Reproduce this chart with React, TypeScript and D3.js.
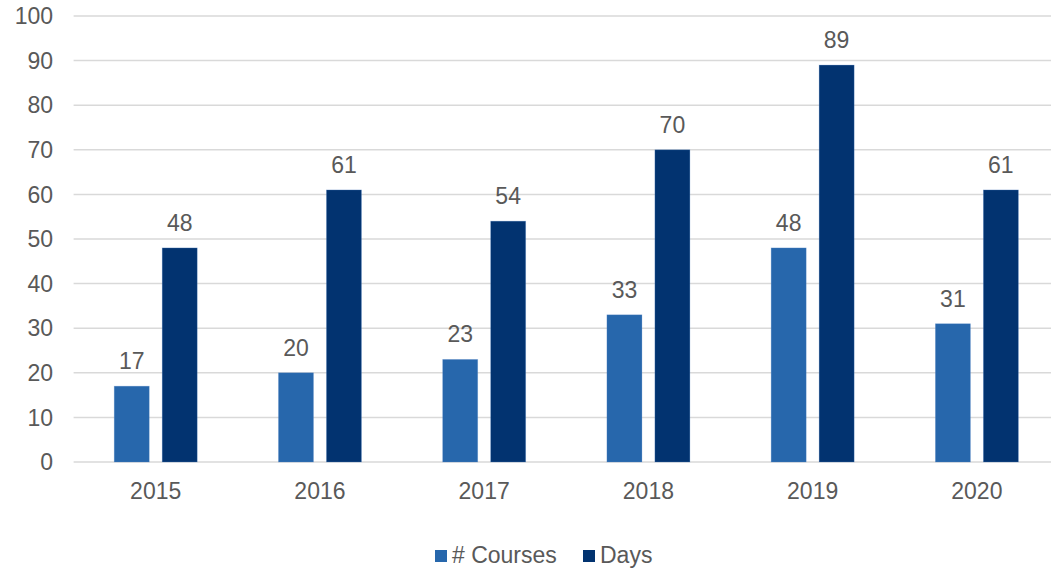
import React from "react";
import * as d3 from "d3";

const years = ["2015", "2016", "2017", "2018", "2019", "2020"];
const courses = [17, 20, 23, 33, 48, 31];
const days = [48, 61, 54, 70, 89, 61];
const seriesNames = ["# Courses", "Days"];
const colors = ["#2767AC", "#023370"];
const yTicks = [0, 10, 20, 30, 40, 50, 60, 70, 80, 90, 100];

const width = 1051,
  height = 570;
const margin = { top: 16, right: -8, bottom: 108, left: 73.6 };
const font = "'Liberation Sans', Arial, sans-serif";
const textColor = "#595959";

const App = () => {
  const x = d3
    .scaleBand()
    .domain(years)
    .range([margin.left, width - margin.right]);
  const inner = d3
    .scaleBand()
    .domain(seriesNames)
    .range([x.bandwidth() / 2 - 41.5, x.bandwidth() / 2 + 41.5])
    .paddingInner(0.27);
  const y = d3
    .scaleLinear()
    .domain([0, 100])
    .range([height - margin.bottom, margin.top]);

  const series = [courses, days];

  return (
    <svg
      width={width}
      height={height}
      style={{ position: "absolute", left: 0, top: 0, background: "#fff" }}
      fontFamily={font}
    >
      {yTicks.map(t => (
        <g key={t}>
          <line
            x1={margin.left}
            x2={width}
            y1={y(t)}
            y2={y(t)}
            stroke="#d9d9d9"
            strokeWidth={1.5}
          />
          <text
            x={53}
            y={y(t)}
            dy="0.36em"
            textAnchor="end"
            fontSize={23}
            fill={textColor}
          >
            {t}
          </text>
        </g>
      ))}
      {years.map((yr, i) => (
        <g key={yr} transform={`translate(${x(yr)},0)`}>
          {series.map((vals, s) => {
            const bx = inner(seriesNames[s]) as number;
            return (
              <g key={s}>
                <rect
                  x={bx}
                  y={y(vals[i])}
                  width={inner.bandwidth()}
                  height={y(0) - y(vals[i])}
                  fill={colors[s]}
                  stroke="#5b8ccc"
                  strokeOpacity={0.35}
                  strokeWidth={0.75}
                />
                <text
                  x={bx + inner.bandwidth() / 2}
                  y={y(vals[i]) - 17}
                  textAnchor="middle"
                  fontSize={23}
                  fill={textColor}
                >
                  {vals[i]}
                </text>
              </g>
            );
          })}
          <text
            x={x.bandwidth() / 2}
            y={499}
            textAnchor="middle"
            fontSize={23}
            fill={textColor}
          >
            {yr}
          </text>
        </g>
      ))}
      <g>
        <rect x={435} y={550} width={12} height={12} fill={colors[0]} />
        <text x={452} y={563} fontSize={23} fill={textColor}>
          {seriesNames[0]}
        </text>
        <rect x={583} y={550} width={12} height={12} fill={colors[1]} />
        <text x={600} y={563} fontSize={23} fill={textColor}>
          {seriesNames[1]}
        </text>
      </g>
    </svg>
  );
};

export default App;
